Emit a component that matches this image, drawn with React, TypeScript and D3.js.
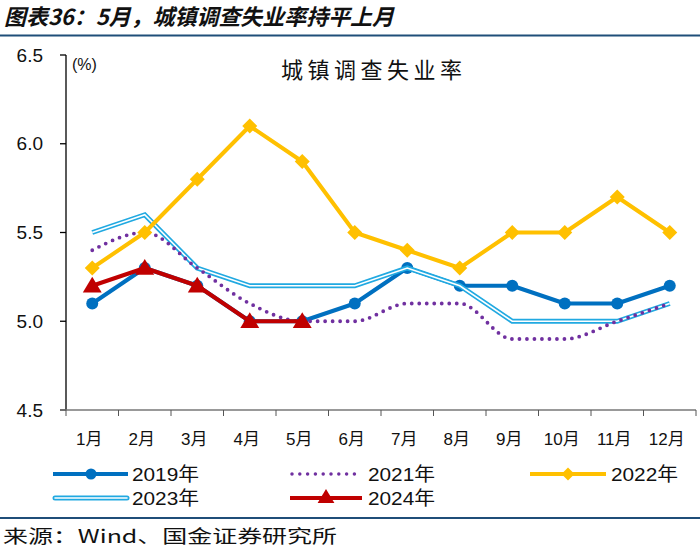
import React from "react";
import * as d3 from "d3";

const months = ["1月", "2月", "3月", "4月", "5月", "6月", "7月", "8月", "9月", "10月", "11月", "12月"];
const yTicks = [4.5, 5.0, 5.5, 6.0, 6.5];
const s2019 = [5.1, 5.3, 5.2, 5.0, 5.0, 5.1, 5.3, 5.2, 5.2, 5.1, 5.1, 5.2];
const s2021 = [5.4, 5.5, 5.3, 5.1, 5.0, 5.0, 5.1, 5.1, 4.9, 4.9, 5.0, 5.1];
const s2022 = [5.3, 5.5, 5.8, 6.1, 5.9, 5.5, 5.4, 5.3, 5.5, 5.5, 5.7, 5.5];
const s2023 = [5.5, 5.6, 5.3, 5.2, 5.2, 5.2, 5.3, 5.2, 5.0, 5.0, 5.0, 5.1];
const s2024 = [5.2, 5.3, 5.2, 5.0, 5.0];

const C2019 = "#0070C0";
const C2021 = "#7030A0";
const C2022 = "#FFC000";
const C2023 = "#21A9E1";
const C2024 = "#C00000";

const NUM = "'Liberation Sans', Arial, 'Noto Sans CJK SC', sans-serif";
const CJK = "'Noto Sans CJK SC', sans-serif";

export default function App() {
  const x = d3.scaleBand<string>().domain(months).range([66, 696]);
  const cx = (i: number) => (x(months[i]) as number) + x.bandwidth() / 2;
  const y = d3.scaleLinear().domain([4.5, 6.5]).range([410, 55]);

  const line = d3.line<number>().x((_, i) => cx(i)).y((d) => y(d));
  const smooth = d3.line<number>().x((_, i) => cx(i)).y((d) => y(d)).curve(d3.curveMonotoneX);

  const diamond = (px: number, py: number, r: number) =>
    `M${px},${py - r}L${px + r},${py}L${px},${py + r}L${px - r},${py}Z`;
  const tri = (px: number, py: number, r: number) =>
    `M${px},${py - r}L${px + r * 1.05},${py + r * 0.75}L${px - r * 1.05},${py + r * 0.75}Z`;

  const edges = months.map((m) => x(m) as number).concat([696]);

  return (
    <svg width={700} height={550} style={{ position: "absolute", left: 0, top: 0, background: "#fff" }}>
      {/* header */}
      <text x={4} y={25} fontFamily={CJK} fontSize={22} fontWeight="bold" fontStyle="italic" fill="#111" textLength={390} lengthAdjust="spacingAndGlyphs">
        图表36：5月，城镇调查失业率持平上月
      </text>
      <line x1={0} x2={700} y1={35.5} y2={35.5} stroke="#1F4E79" strokeWidth={2} />

      {/* y axis */}
      <line x1={66} x2={66} y1={55} y2={410} stroke="#000" strokeWidth={1.3} />
      {yTicks.map((t) => (
        <g key={t}>
          <line x1={60} x2={66} y1={y(t)} y2={y(t)} stroke="#000" strokeWidth={1.3} />
          <text x={43} y={y(t) + 6.5} textAnchor="end" fontFamily={NUM} fontSize={19} fill="#111">
            {t.toFixed(1)}
          </text>
        </g>
      ))}
      {/* x axis */}
      <line x1={60} x2={696} y1={410} y2={410} stroke="#777" strokeWidth={1.5} />
      {edges.map((e, i) => (
        <line key={i} x1={e} x2={e} y1={410} y2={416} stroke="#555" strokeWidth={1} />
      ))}
      {months.map((m, i) => (
        <text key={m} x={cx(i) - 3} y={445} textAnchor="middle" fontFamily={NUM} fontSize={17} fill="#111">
          {m}
        </text>
      ))}

      <text x={72} y={70} fontFamily={NUM} fontSize={16} fill="#111">(%)</text>
      <text x={281} y={78} fontFamily={CJK} fontSize={22} fill="#111" textLength={181} lengthAdjust="spacing">
        城镇调查失业率
      </text>

      {/* 2019 */}
      <path d={line(s2019) || ""} fill="none" stroke={C2019} strokeWidth={4} strokeLinejoin="round" />
      {s2019.map((v, i) => (
        <circle key={i} cx={cx(i)} cy={y(v)} r={6} fill={C2019} />
      ))}

      {/* 2023 double line */}
      <path d={line(s2023) || ""} fill="none" stroke={C2023} strokeWidth={5} strokeLinejoin="miter" />
      <path d={line(s2023) || ""} fill="none" stroke="#fff" strokeWidth={1.6} strokeLinejoin="miter" />

      {/* 2021 dotted */}
      <path d={smooth(s2021) || ""} fill="none" stroke={C2021} strokeWidth={3.8} strokeDasharray="0 7.5" strokeLinecap="round" />

      {/* 2022 */}
      <path d={line(s2022) || ""} fill="none" stroke={C2022} strokeWidth={4} strokeLinejoin="round" />
      {s2022.map((v, i) => (
        <path key={i} d={diamond(cx(i), y(v), 7.5)} fill={C2022} />
      ))}

      {/* 2024 */}
      <path d={line(s2024) || ""} fill="none" stroke={C2024} strokeWidth={4} strokeLinejoin="round" />
      {s2024.map((v, i) => (
        <path key={i} d={tri(cx(i), y(v), 9)} fill={C2024} />
      ))}

      {/* legend */}
      <g>
        <line x1={53} x2={128} y1={474} y2={474} stroke={C2019} strokeWidth={4} />
        <circle cx={91} cy={474} r={5.5} fill={C2019} />
        <text x={132} y={481} fontFamily={NUM} fontSize={19} fill="#111" textLength={67} lengthAdjust="spacingAndGlyphs">2019年</text>

        <line x1={292} x2={362} y1={474} y2={474} stroke={C2021} strokeWidth={3.5} strokeDasharray="0 7.8" strokeLinecap="round" />
        <text x={368} y={481} fontFamily={NUM} fontSize={19} fill="#111" textLength={67} lengthAdjust="spacingAndGlyphs">2021年</text>

        <line x1={530} x2={606} y1={474} y2={474} stroke={C2022} strokeWidth={4} />
        <path d={diamond(568, 474, 6.5)} fill={C2022} />
        <text x={611} y={481} fontFamily={NUM} fontSize={19} fill="#111" textLength={67} lengthAdjust="spacingAndGlyphs">2022年</text>

        <line x1={55} x2={127} y1={498} y2={498} stroke={C2023} strokeWidth={5} strokeLinecap="round" />
        <line x1={55} x2={127} y1={498} y2={498} stroke="#fff" strokeWidth={1.6} strokeLinecap="round" />
        <text x={132} y={505} fontFamily={NUM} fontSize={19} fill="#111" textLength={67} lengthAdjust="spacingAndGlyphs">2023年</text>

        <line x1={290} x2={362} y1={498} y2={498} stroke={C2024} strokeWidth={4} />
        <path d={tri(326, 497, 8)} fill={C2024} />
        <text x={368} y={505} fontFamily={NUM} fontSize={19} fill="#111" textLength={67} lengthAdjust="spacingAndGlyphs">2024年</text>
      </g>

      {/* footer */}
      <line x1={0} x2={700} y1={518} y2={518} stroke="#1F4E79" strokeWidth={2} />
      <text x={3} y={543} fontFamily={CJK} fontSize={18} fill="#111" textLength={334} lengthAdjust="spacingAndGlyphs">来源：Wind、国金证券研究所</text>
    </svg>
  );
}
